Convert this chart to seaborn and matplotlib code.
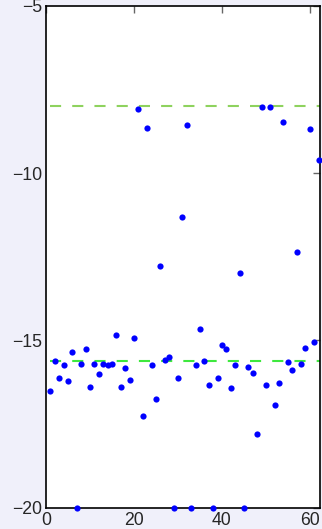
import numpy as np
import pandas as pd
import matplotlib
matplotlib.use("Agg")
import matplotlib.pyplot as plt
import seaborn as sns

# data
x_vals = list(range(1, 63))
y_vals = [
    -16.53, -15.62, -16.13, -15.75, -16.22, -15.36, -20.0, -15.71, -15.27, -16.40,
    -15.71, -16.00, -15.71, -15.75, -15.71, -14.83, -16.40, -15.84, -16.18, -14.92,
    -8.08, -17.27, -8.64, -15.75, -16.75, -12.78, -15.58, -15.49, -20.0, -16.13,
    -11.30, -8.56, -20.0, -15.75, -14.65, -15.62, -16.35, -20.0, -16.13, -15.13,
    -15.27, -16.44, -15.75, -13.00, -20.0, -15.79, -15.97, -17.80, -8.03, -16.35,
    -8.03, -16.92, -16.27, -8.47, -15.66, -15.88, -12.35, -15.71, -15.22, -8.69,
    -15.05, -9.60,
]
upper_level = -8.0
lower_level = -15.62
x_ticks = [0, 20, 40, 60]
y_ticks = [-20, -15, -10, -5]

df = pd.DataFrame({"x": x_vals, "y": y_vals})

sns.set_style("white")
plt.rcParams["font.family"] = ["Liberation Sans", "DejaVu Sans"]
plt.rcParams["lines.scale_dashes"] = False

fig = plt.figure(figsize=(3.22, 5.29), dpi=100, facecolor="#F0F0FA")
ax = fig.add_axes([46 / 322, 1 - 507.5 / 529, (320 - 46) / 322, (507.5 - 6) / 529])
ax.set_facecolor("white")

ax.plot([1, 63], [upper_level, upper_level], color="#8ED25E", lw=1.5,
        linestyle=(0, (8, 8)), zorder=1)
ax.plot([1, 63], [lower_level, lower_level], color="#3EE83E", lw=1.5,
        linestyle=(0, (8, 8)), zorder=1)

sns.scatterplot(data=df, x="x", y="y", ax=ax, color="#0000FF", s=20,
                linewidth=0, clip_on=False, zorder=3, legend=False)

ax.set_xlim(0, 62.3)
ax.set_ylim(-20, -5)
ax.set_xticks(x_ticks)
ax.set_yticks(y_ticks)
ax.set_xticklabels([str(t) for t in x_ticks])
ax.set_yticklabels(["\u2212" + str(abs(t)) for t in y_ticks])
ax.set_xlabel("")
ax.set_ylabel("")
ax.tick_params(direction="in", length=5, width=1, color="#666666",
               labelsize=12.7, labelcolor="#262626", top=True, right=True,
               pad=3)
for sp in ax.spines.values():
    sp.set_visible(True)
    sp.set_color("black")
    sp.set_linewidth(1.2)

fig.savefig("out.png", dpi=100, facecolor=fig.get_facecolor())
